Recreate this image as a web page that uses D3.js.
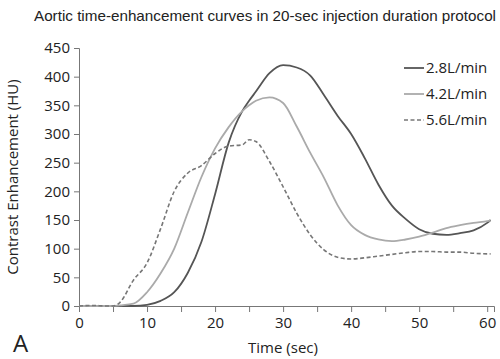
<!DOCTYPE html>
<html><head><meta charset="utf-8">
<script src="https://cdn.jsdelivr.net/npm/d3@7"></script>
<style>body{margin:0;background:#fff}svg{display:block}</style>
</head><body>
<script>
const times   = [0,2,4,5,6,8,10,12,14,16,18,20,22,24,25,26,28,30,32,34,36,38,40,42,44,46,48,50,52,54,56,58,60,60.5];
const flow28  = [0,0,0,0,0,0,2,9,24,58,112,195,285,340,358,374,406,420,416,402,368,332,300,258,212,175,152,134,126,124,127,132,145,150];
const flow42  = [0,0,0,0,1,4,24,57,100,163,225,275,312,340,350,358,364,354,313,267,224,176,141,124,116,113,116,121,128,136,141,145,148,149];
const flow56  = [0,1,0,0,6,45,75,135,200,232,245,266,279,281,290,287,252,208,162,124,98,85,82,84,87,90,93,95,95,94,94,92,91,91];
const seriesNames = ["2.8L/min","4.2L/min","5.6L/min"];
const xTicks = [0,10,20,30,40,50,60];
const yTicks = [0,50,100,150,200,250,300,350,400,450];

const W=500,H=359;
const svg=d3.select("body").append("svg").attr("width",W).attr("height",H);
const x=d3.scaleLinear().domain([0,61]).range([79,494]);
const y=d3.scaleLinear().domain([0,450]).range([306,48]);
const axisColor="#777";
const tickFont="'Open Sans', sans-serif";

svg.append("text").attr("x",265).attr("y",21).attr("text-anchor","middle")
  .attr("textLength",462).attr("lengthAdjust","spacingAndGlyphs")
  .style("font-family","'Liberation Sans', Arial, sans-serif").style("font-size","14.5px").style("fill","#222")
  .text("Aortic time-enhancement curves in 20-sec injection duration protocol");

// x axis
const xAxis=d3.axisBottom(x).tickValues(d3.range(0,61,5)).tickSize(6)
  .tickFormat(d=>xTicks.includes(d)?d:"");
const gx=svg.append("g").attr("transform",`translate(0,${y(0)})`).call(xAxis);
gx.select(".domain").attr("stroke",axisColor);
gx.selectAll(".tick line").attr("stroke",axisColor);
gx.selectAll("text").style("font-family",tickFont).style("font-size","15px").style("fill","#222").attr("dy","0.85em");

// y axis
const yAxis=d3.axisLeft(y).tickValues(yTicks).tickSize(5).tickPadding(4);
const gy=svg.append("g").attr("transform",`translate(${x(0)},0)`).call(yAxis);
gy.select(".domain").attr("stroke",axisColor);
gy.selectAll(".tick line").attr("stroke",axisColor);
gy.selectAll("text").style("font-family",tickFont).style("font-size","15px").style("fill","#222");

// labels
svg.append("text").attr("transform","translate(18,177) rotate(-90)").attr("text-anchor","middle")
  .style("font-family",tickFont).style("font-size","15px").style("fill","#222").text("Contrast Enhancement (HU)");
svg.append("text").attr("x",283).attr("y",353).attr("text-anchor","middle")
  .style("font-family",tickFont).style("font-size","15px").style("fill","#222").text("Time (sec)");
svg.append("text").attr("x",13).attr("y",352)
  .style("font-family",tickFont).style("font-size","24px").style("fill","#222").text("A");

const styles=[{c:"#555",w:1.8,d:null},{c:"#aaa",w:1.8,d:null},{c:"#777",w:1.6,d:"4,2.5"}];
const data=[flow28,flow42,flow56];
const line=d3.line().x((d,i)=>x(times[i])).y(d=>y(d)).curve(d3.curveMonotoneX);
data.forEach((s,k)=>{
  svg.append("path").datum(s).attr("d",line).attr("fill","none")
    .attr("stroke",styles[k].c).attr("stroke-width",styles[k].w)
    .attr("stroke-dasharray",styles[k].d);
});

// legend
const legY=[68,94,120];
seriesNames.forEach((n,k)=>{
  svg.append("line").attr("x1",404).attr("x2",424).attr("y1",legY[k]).attr("y2",legY[k])
    .attr("stroke",styles[k].c).attr("stroke-width",styles[k].w).attr("stroke-dasharray",styles[k].d);
  svg.append("text").attr("x",426).attr("y",legY[k]).attr("dy","0.35em")
    .style("font-family",tickFont).style("font-size","15px").style("fill","#222").text(n);
});
</script>
</body></html>
